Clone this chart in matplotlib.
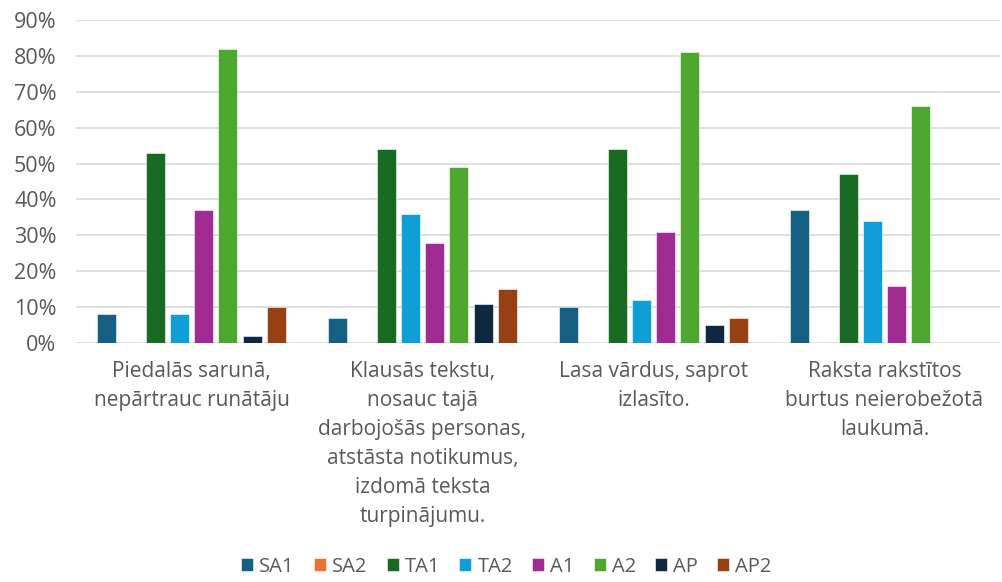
import matplotlib
matplotlib.use("Agg")
import matplotlib.pyplot as plt
import numpy as np
from matplotlib.ticker import PercentFormatter

categories = [
    "Piedalās sarunā,\nnepārtrauc runātāju",
    "Klausās tekstu,\nnosauc tajā\ndarbojošās personas,\natstāsta notikumus,\nizdomā teksta\nturpinājumu.",
    "Lasa vārdus, saprot\nizlasīto.",
    "Raksta rakstītos\nburtus neierobežotā\nlaukumā.",
]
series_names = ["SA1", "SA2", "TA1", "TA2", "A1", "A2", "AP", "AP2"]
SA1 = [8, 7, 10, 37]
SA2 = [0, 0, 0, 0]
TA1 = [53, 54, 54, 47]
TA2 = [8, 36, 12, 34]
A1 = [37, 28, 31, 16]
A2 = [82, 49, 81, 66]
AP = [2, 11, 5, 0]
AP2 = [10, 15, 7, 0]
values = [SA1, SA2, TA1, TA2, A1, A2, AP, AP2]
colors = ["#156082", "#E97132", "#196B24", "#0F9ED5", "#A02B93", "#4EA72E", "#0E2841", "#964014"]

plt.rcParams['font.family'] = ['Open Sans', 'DejaVu Sans']
fig = plt.figure(figsize=(10.03, 5.82), dpi=100)
ax = fig.add_axes([76/1003, 1 - 343/582, (1000-76)/1003, (343-20)/582])

x = np.arange(len(categories))
slot = 0.105
width = 0.082
for i, (name, vals, c) in enumerate(zip(series_names, values, colors)):
    ax.bar(x + (i - 3.5) * slot, vals, width=width, color=c, label=name, zorder=3,
           edgecolor='white', linewidth=0.4)

ax.set_xlim(-0.5, 3.5)
ax.set_ylim(0, 90)
ax.set_yticks(np.arange(0, 91, 10))
ax.yaxis.set_major_formatter(PercentFormatter(decimals=0))
ax.grid(axis='y', color='#d9d9d9', linewidth=1.2, zorder=0)
for s in ax.spines.values():
    s.set_visible(False)
ax.tick_params(axis='y', length=0, labelsize=15.5, labelcolor='#595959', pad=14)
ax.set_xticks(x)
ax.set_xticklabels(categories, fontsize=15, color='#595959', linespacing=1.5)
ax.tick_params(axis='x', length=0, pad=13)

fig.legend(loc='lower center', bbox_to_anchor=(0.505, -0.022), ncol=8, frameon=False,
           fontsize=14.5, handlelength=0.6, handleheight=0.6, handletextpad=0.3,
           columnspacing=0.95, labelcolor='#595959')

fig.savefig("out.png", dpi=100)
